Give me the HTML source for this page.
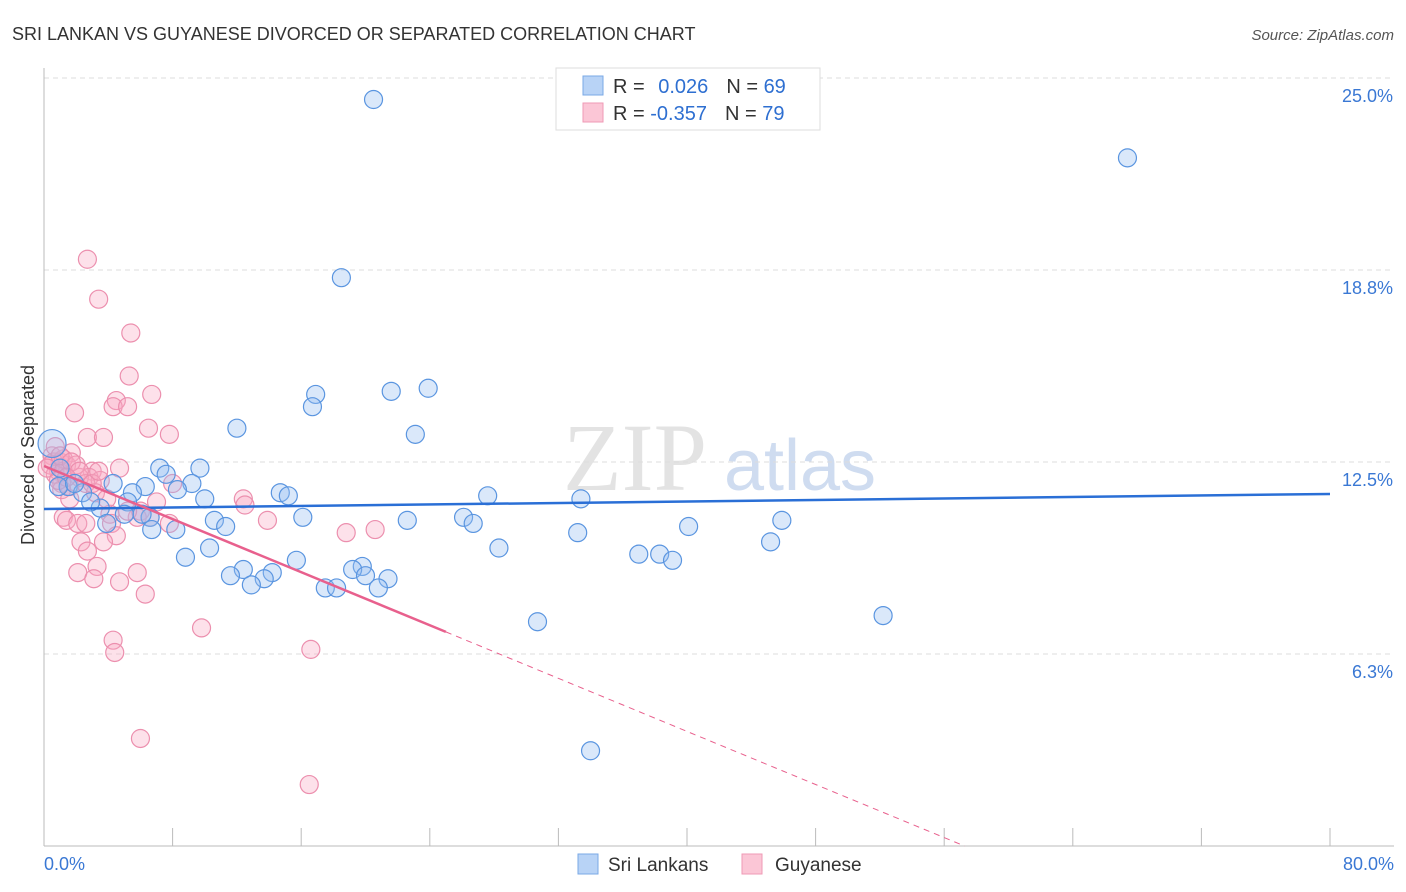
<!DOCTYPE html>
<html><head><meta charset="utf-8"><style>
body{margin:0;background:#fff;font-family:"Liberation Sans",sans-serif;}
svg{display:block}
</style></head><body>
<svg id="chart" width="1406" height="892">
<text x="12" y="40" font-size="18" fill="#333">SRI LANKAN VS GUYANESE DIVORCED OR SEPARATED CORRELATION CHART</text>
<text x="1394" y="40" font-size="15" fill="#555" font-style="italic" text-anchor="end">Source: ZipAtlas.com</text>
<g>
<text x="635" y="490" font-size="96" font-family="Liberation Serif,serif" fill="#e3e3e3" text-anchor="middle">ZIP</text>
<text x="800" y="490" font-size="72" fill="#cfdcf0" text-anchor="middle">atlas</text>
</g>
<g id="grid"></g><g id="axes"></g><g id="marks"></g>
<text transform="translate(34,455) rotate(-90)" font-size="18" fill="#333" text-anchor="middle">Divorced or Separated</text>
<g>
<rect x="556" y="68" width="264" height="62" fill="#fff" stroke="#ddd"/>
<rect x="583" y="76" width="20" height="19" fill="#b8d3f6" stroke="#7aa8e6"/>
<rect x="583" y="103" width="20" height="19" fill="#fbc6d6" stroke="#ef9ab5"/>
<text x="613" y="93" font-size="20" fill="#333">R = <tspan fill="#2e6fd1" dx="8">0.026</tspan><tspan dx="18" fill="#333">N = </tspan><tspan fill="#2e6fd1">69</tspan></text>
<text x="613" y="120" font-size="20" fill="#333">R = <tspan fill="#2e6fd1">-0.357</tspan><tspan dx="18" fill="#333">N = </tspan><tspan fill="#2e6fd1">79</tspan></text>
</g>
<g>
<rect x="578" y="854" width="20" height="20" fill="#b8d3f6" stroke="#7aa8e6"/>
<text x="608" y="871" font-size="19" fill="#333">Sri Lankans</text>
<rect x="742" y="854" width="20" height="20" fill="#fbc6d6" stroke="#ef9ab5"/>
<text x="775" y="871" font-size="19" fill="#333">Guyanese</text>
</g>
</svg>
<script>
const yTicks=[6.25,12.5,18.75,25];
const yTickLabels=["6.3%","12.5%","18.8%","25.0%"];
const xTickLabels=["0.0%","80.0%"];
const blueX=[20.5,67.4,18.5,21.6,23.9,16.9,16.7,23.1,12.0,7.2,9.7,7.6,9.2,6.3,8.3,10.0,14.7,15.2,27.6,33.4,5.5,4.3,5.2,3.5,5.0,6.6,6.1,10.6,11.3,8.2,6.7,16.1,22.6,26.1,26.7,45.9,40.1,33.2,28.3,45.2,10.3,8.8,15.7,37.0,38.3,39.1,19.8,19.2,20.0,12.4,11.6,14.2,13.7,12.9,21.4,20.8,17.5,18.2,30.7,52.2,34.0,0.5,1.0,1.5,0.9,2.4,2.9,3.9,1.9];
const blueY=[24.3,22.4,18.5,14.8,14.9,14.7,14.3,13.4,13.6,12.3,12.3,12.1,11.8,11.7,11.6,11.3,11.5,11.4,11.4,11.3,11.5,11.8,11.2,11.0,10.8,10.7,10.8,10.6,10.4,10.3,10.3,10.7,10.6,10.7,10.5,10.6,10.4,10.2,9.7,9.9,9.7,9.4,9.3,9.5,9.5,9.3,9.1,9.0,8.8,9.0,8.8,8.9,8.7,8.5,8.7,8.4,8.4,8.4,7.3,7.5,3.1,13.1,12.3,11.7,11.7,11.5,11.2,10.5,11.8];
const pinkX=[2.7,3.4,5.4,5.3,6.7,4.5,4.3,5.2,1.9,6.5,7.8,2.7,3.7,1.7,0.5,1.0,1.4,4.7,3.0,2.8,3.5,2.2,1.6,1.1,8.0,12.4,12.5,7.0,6.0,4.1,5.8,7.8,13.9,1.2,1.4,2.1,2.6,4.2,18.8,20.6,4.5,2.3,3.7,2.7,3.3,2.1,5.8,3.1,4.7,6.3,9.8,4.3,4.4,16.6,6.0,16.5,0.6,0.9,0.4,0.7,1.2,0.2,1.1,1.6,2.6,3.2,3.9,5.2,6.6,1.2,2.0,3.0,0.7,1.0,1.7,2.2,3.4,0.9,1.4];
const pinkY=[19.1,17.8,16.7,15.3,14.7,14.5,14.3,14.3,14.1,13.6,13.4,13.3,13.3,12.8,12.7,12.5,12.4,12.3,12.2,12.0,11.9,12.0,11.7,11.8,11.8,11.3,11.1,11.2,10.9,10.8,10.7,10.5,10.6,10.7,10.6,10.5,10.5,10.5,10.2,10.3,10.1,9.9,9.9,9.6,9.1,8.9,8.9,8.7,8.6,8.2,7.1,6.7,6.3,6.4,3.5,2.0,12.5,12.2,12.4,12.1,12.6,12.3,11.6,11.3,11.8,11.5,11.3,10.9,10.7,12.2,12.4,11.8,13.0,12.7,12.5,12.2,12.2,11.9,12.0];
const blueTrend=[10.97,11.46];
const pinkTrend=[12.37,-0.216];
const pinkSolidEnd=25;

const NS="http://www.w3.org/2000/svg";
const X0=44,X1=1330,Y0=846,PXPERY=30.72;
const sx=v=>X0+v/80*(X1-X0);
const sy=v=>Y0-v*PXPERY;
function mk(tag,attrs,parent){const e=document.createElementNS(NS,tag);for(const k in attrs)e.setAttribute(k,attrs[k]);parent.appendChild(e);return e;}
const grid=document.getElementById('grid'),axes=document.getElementById('axes'),marks=document.getElementById('marks');
yTicks.forEach((t,i)=>{
  const l=mk('line',{x1:X0,x2:1394,y1:sy(t),y2:sy(t),stroke:'#ddd','stroke-dasharray':'5,4'},grid);
  
  
  const tx=mk('text',{x:1393,y:sy(t)+24,'font-size':18,fill:'#3a78d4','text-anchor':'end'},axes);
  tx.textContent=yTickLabels[i];
  
  
});
const yax=mk('line',{x1:X0,x2:X0,y1:68,y2:Y0,stroke:'#bbb'},axes);


const xax=mk('line',{x1:X0,x2:1394,y1:Y0,y2:Y0,stroke:'#bbb'},axes);


for(let v=0;v<=80;v+=8){
  const t=mk('line',{x1:sx(v),x2:sx(v),y1:Y0-18,y2:Y0,stroke:'#bbb'},axes);
  
  
}
[[0,'start',44],[80,'end',1394]].forEach((p,i)=>{
  const tx=mk('text',{x:p[2],y:870,'font-size':18,fill:'#3a78d4','text-anchor':p[1]},axes);
  tx.textContent=xTickLabels[i];
  
  
});
function dots(xs,ys,fill,stroke,name){
  xs.forEach((x,i)=>{
    const c=mk('circle',{cx:sx(x),cy:sy(ys[i]),r:(name==='sri-lankan-point'&&i===61)?14:9,fill:fill,stroke:stroke,'stroke-width':1.2},marks);
    
    
  });
}
dots(pinkX,pinkY,'rgba(248,170,195,0.35)','#ec8fae','guyanese-point');
dots(blueX,blueY,'rgba(150,190,240,0.35)','#5a95e0','sri-lankan-point');
const bt=mk('line',{x1:sx(0),y1:sy(blueTrend[0]),x2:sx(80),y2:sy(blueTrend[1]),stroke:'#2a6fd6','stroke-width':2.5},marks);


const pf=x=>pinkTrend[0]+pinkTrend[1]*x;
const pt=mk('line',{x1:sx(0),y1:sy(pf(0)),x2:sx(pinkSolidEnd),y2:sy(pf(pinkSolidEnd)),stroke:'#e8608d','stroke-width':2.5},marks);


const xEnd=-pinkTrend[0]/pinkTrend[1];
const pd=mk('line',{x1:sx(pinkSolidEnd),y1:sy(pf(pinkSolidEnd)),x2:sx(xEnd),y2:sy(0),stroke:'#e8608d','stroke-width':1,'stroke-dasharray':'6,5'},marks);


</script>
</body></html>
